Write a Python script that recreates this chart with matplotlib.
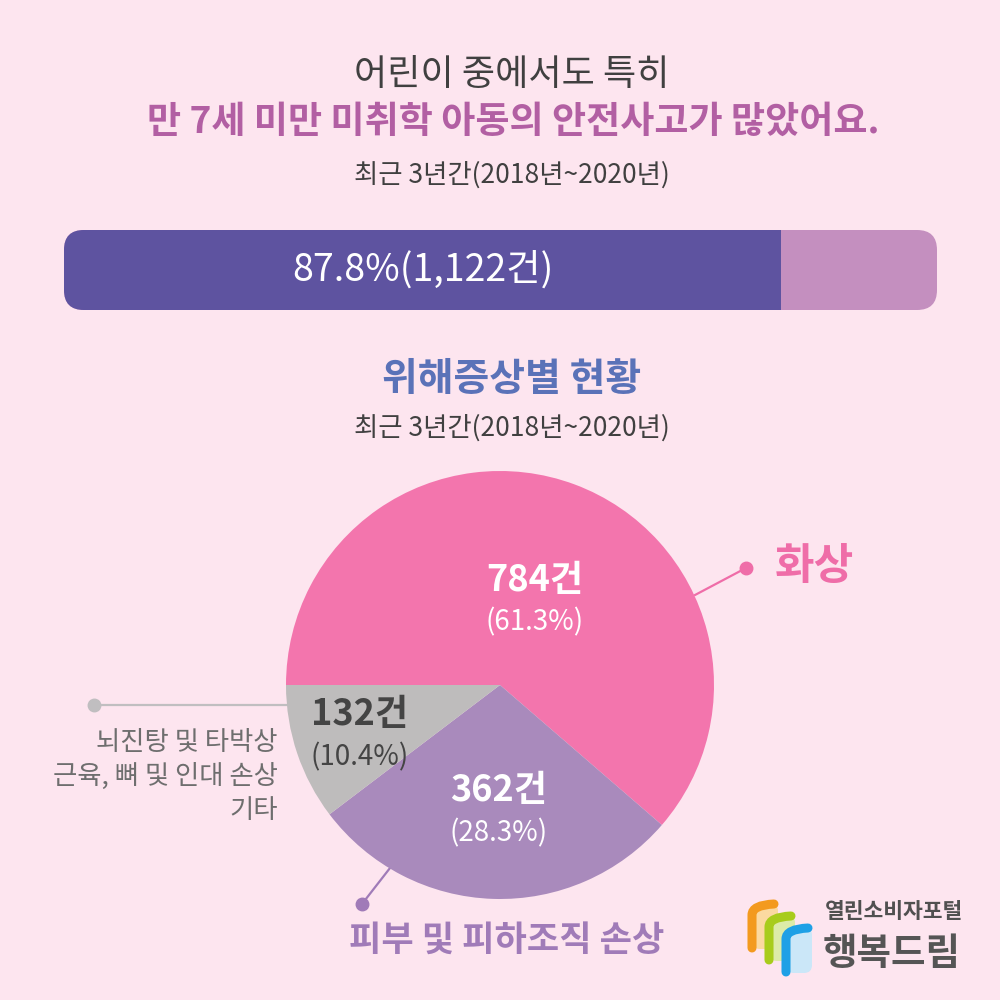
import matplotlib
matplotlib.use("Agg")
import matplotlib.pyplot as plt
from matplotlib.patches import FancyBboxPatch, PathPatch
from matplotlib.path import Path

plt.rcParams['font.family'] = ['Noto Sans CJK KR', 'DejaVu Sans']

# ---------------- data ----------------
title_line1 = "어린이 중에서도 특히"
title_line2 = "만 7세 미만 미취학 아동의 안전사고가 많았어요."
period_text = "최근 3년간(2018년~2020년)"
bar_share = 87.8          # % of accidents, children under 7
bar_count = 1122
pie_title = "위해증상별 현황"
pie_categories = ["화상", "피부 및 피하조직 손상", "뇌진탕 및 타박상\n근육, 뼈 및 인대 손상\n기타"]
pie_counts = [784, 362, 132]
pie_shares = [61.3, 28.3, 10.4]
logo_small = "열린소비자포털"
logo_big = "행복드림"

# ---------------- style ----------------
BG = '#FDE5EF'
DARK = '#404040'
BAR_DARK = '#5E53A0'
BAR_LIGHT = '#C48FBF'
PIE_COLORS = ['#F375AD', '#A98ABC', '#BEBCBC']
ANNOT_COLORS = ['#EF6DA8', '#A07BB8', '#C0BEC0']

fig = plt.figure(figsize=(10, 10), dpi=100, facecolor=BG)
ax = fig.add_axes([0, 0, 1, 1])
ax.set_xlim(0, 1000)
ax.set_ylim(1000, 0)
ax.axis('off')
ax.set_facecolor(BG)

# titles
ax.text(512, 75, title_line1, ha='center', va='center', fontsize=26, color=DARK)
ax.text(513, 122, title_line2, ha='center', va='center', fontsize=26.7,
        fontweight='bold', color='#B25FA3')
ax.text(512, 175, period_text, ha='center', va='center', fontsize=19, color=DARK)

# ---------------- horizontal share bar ----------------
track = FancyBboxPatch((64, 230), 873, 80, boxstyle="round,pad=0,rounding_size=20",
                       facecolor=BAR_LIGHT, edgecolor='none', zorder=1)
ax.add_patch(track)

bax = fig.add_axes([64 / 1000, 690 / 1000, 873 / 1000, 80 / 1000])
bax.set_xlim(0, 106.9)
bax.set_ylim(-0.5, 0.5)
bax.axis('off')
bax.patch.set_alpha(0)
bars = bax.barh([0], [bar_share], height=1.0, color=BAR_DARK, edgecolor='none')
for b in bars:
    b.set_clip_path(track)
bax.text(bar_share / 2, 0, f"{bar_share}%({bar_count:,}건)", ha='center', va='center',
         fontsize=27, color='white')

# ---------------- pie ----------------
ax.text(512, 380, pie_title, ha='center', va='center', fontsize=28,
        fontweight='bold', color='#5A72B8')
ax.text(512, 428, period_text, ha='center', va='center', fontsize=19, color=DARK)

R = 214
cx, cy = 500, 685
pax = fig.add_axes([(cx - R) / 1000, (1000 - cy - R) / 1000, 2 * R / 1000, 2 * R / 1000])
pax.patch.set_alpha(0)
pax.pie(pie_counts, colors=PIE_COLORS, startangle=180, counterclock=False,
        radius=1, wedgeprops=dict(linewidth=0))
pax.set_xlim(-1, 1)
pax.set_ylim(-1, 1)
pax.axis('off')

# labels drawn on the pie axes (so they sit above the wedges), positioned in pixel space
label_pos = [(535, 580, 622, 'white'), (499, 790, 833, 'white'), (360, 715, 757, '#444444')]
for (x, y1, y2, c), n, s in zip(label_pos, pie_counts, pie_shares):
    pax.text(x, y1, f"{n}건", ha='center', va='center', fontsize=26, color=c,
             fontweight='bold', transform=ax.transData, clip_on=False)
    pax.text(x, y2, f"({s}%)", ha='center', va='center', fontsize=20, color=c,
             transform=ax.transData, clip_on=False)

# annotations
# 화상
ax.plot([695, 746], [595, 568], color=ANNOT_COLORS[0], lw=1.6, zorder=3)
ax.plot([746], [568], 'o', color=ANNOT_COLORS[0], ms=9, zorder=4)
ax.text(775, 566, pie_categories[0], ha='left', va='center', fontsize=31,
        fontweight='bold', color=ANNOT_COLORS[0])
# 피부
ax.plot([390, 362], [868, 904], color=ANNOT_COLORS[1], lw=1.6, zorder=3)
ax.plot([362], [904], 'o', color=ANNOT_COLORS[1], ms=9, zorder=4)
ax.text(507, 940, pie_categories[1], ha='center', va='center', fontsize=25.3,
        fontweight='bold', color=ANNOT_COLORS[1])
# 기타
ax.plot([94, 290], [705, 705], color=ANNOT_COLORS[2], lw=1.6, zorder=3)
ax.plot([94], [705], 'o', color=ANNOT_COLORS[2], ms=9, zorder=4)
for i, line in enumerate(pie_categories[2].split("\n")):
    ax.text(278, 742 + i * 34, line, ha='right', va='center', fontsize=19, color='#6E6E6E')

# ---------------- logo ----------------
logo_parts = [((748, 901), '#F39A1E', '#FBD9A0'),
              ((765, 913), '#A8CC1C', '#DDEBA8'),
              ((782, 925), '#1EA0E6', '#CBE7F8')]
for (lx, ly), c, lc in logo_parts:
    ax.add_patch(FancyBboxPatch((lx + 4, ly + 2), 26, 46, boxstyle="round,pad=0,rounding_size=8",
                                facecolor=lc, edgecolor='none', zorder=2))
    verts = [(lx + 4, ly + 47), (lx + 4, ly + 14), (lx + 4, ly + 4), (lx + 26, ly + 3)]
    codes = [Path.MOVETO, Path.LINETO, Path.CURVE3, Path.CURVE3]
    ax.add_patch(PathPatch(Path(verts, codes), facecolor='none', edgecolor=c,
                           lw=6.5, capstyle='round', zorder=3))
ax.text(825, 912, logo_small, ha='left', va='center', fontsize=15.5, fontweight='bold', color='#505050')
ax.text(823, 953, logo_big, ha='left', va='center', fontsize=27, fontweight='bold', color='#555555')

fig.savefig("out.png", dpi=100, facecolor=BG)
